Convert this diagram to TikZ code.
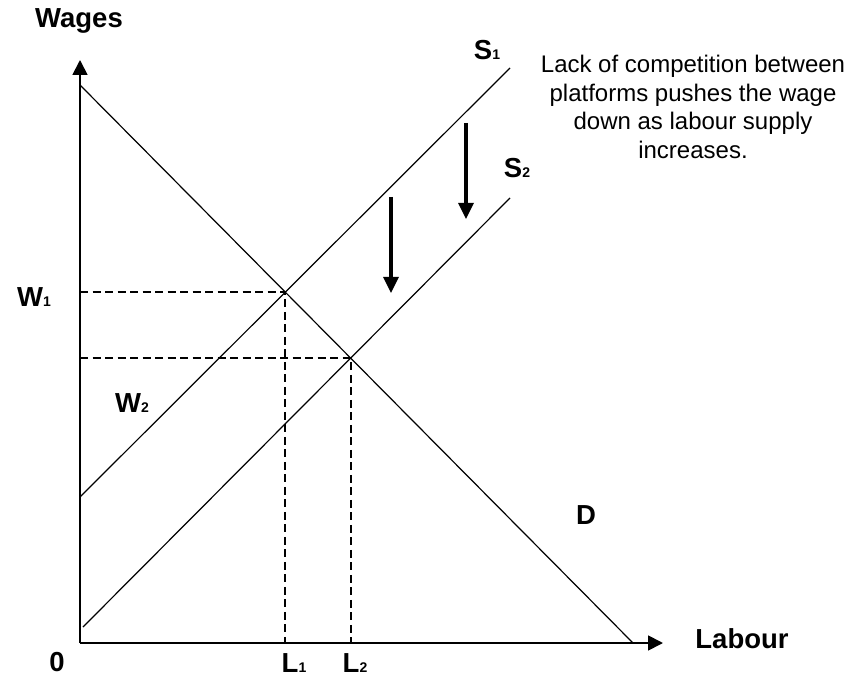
\documentclass[tikz,border=0pt]{standalone}
\usepackage{fontspec}
\setmainfont{Liberation Sans}
\usetikzlibrary{arrows.meta}
\newcommand\lbl[2]{\textbf{#1}{\fontsize{14}{14}\selectfont\textbf{#2}}}
\begin{document}
\begin{tikzpicture}[x=1pt,y=-1pt,
  axis/.style={line width=1.8pt,-{Triangle[length=15pt,width=15pt]}},
  curve/.style={line width=1.2pt},
  guide/.style={line width=2pt,dash pattern=on 8pt off 4.5pt},
  downarrow/.style={line width=3.3pt,-{Triangle[length=16pt,width=15pt]}},
  lab/.style={font=\fontsize{27.5}{27.5}\selectfont\bfseries,inner sep=0pt,anchor=base},
  note/.style={font=\fontsize{24}{28.7}\selectfont,align=center,inner sep=0pt}]
\useasboundingbox (0,0) rectangle (863,679);
\coordinate (O) at (80,643);
\coordinate (ytip) at (80,60);
\coordinate (xtip) at (663,643);
\coordinate (d1) at (80,85);
\coordinate (d2) at (633,643);
\coordinate (s11) at (80,497);
\coordinate (s12) at (510,68);
\coordinate (s21) at (83,627);
\coordinate (s22) at (510,198);
\draw[axis] (O) -- (ytip);
\draw[axis] (O) -- (xtip);
\draw[curve] (d1) -- (d2);
\draw[curve] (s11) -- (s12);
\draw[curve] (s21) -- (s22);
\coordinate (E1) at (intersection of d1--d2 and s11--s12);
\coordinate (E2) at (intersection of d1--d2 and s21--s22);
\draw[guide] (O |- E1) -- (E1) -- (E1 |- O);
\draw[guide] (O |- E2) -- (E2) -- (E2 |- O);
\coordinate (a1s) at (466,123);
\coordinate (a1e) at (466,219);
\coordinate (a2s) at (391,197);
\coordinate (a2e) at (391,293);
\draw[downarrow] (a1s) -- (a1e);
\draw[downarrow] (a2s) -- (a2e);
\node[lab] (wages) at (79,28) {Wages};
\node[lab] (labour) at (742,648) {Labour};
\node[lab] (zero) at (57,671) {0};
\node[lab] (w1) at (34,307) {\lbl{W}{1}};
\node[lab] (w2) at (132,413) {\lbl{W}{2}};
\node[lab] (l1) at (294,672) {\lbl{L}{1}};
\node[lab] (l2) at (355,672) {\lbl{L}{2}};
\node[lab] (s1) at (487,60) {\lbl{S}{1}};
\node[lab] (s2) at (517,178) {\lbl{S}{2}};
\node[lab] (dl) at (586,524) {D};
\node[note] (txt) at (693,107) {Lack of competition between\\platforms pushes the wage\\down as labour supply\\increases.};
\end{tikzpicture}
\end{document}
